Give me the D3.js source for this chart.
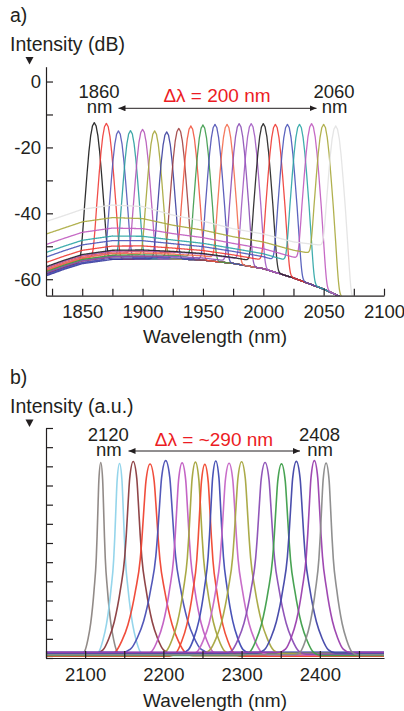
<!DOCTYPE html>
<html>
<head>
<meta charset="utf-8">
<script src="https://cdn.jsdelivr.net/npm/d3@7"></script>
<style>
body { margin: 0; background: #fff; }
svg text { font-family: "Liberation Sans", Arial, sans-serif; fill: #231f20; }
</style>
</head>
<body>
<svg id="chart" width="404" height="711"></svg>
<script>
// ---- panel a: laser lines in dB ----
const peaksA = [1860, 1870, 1880, 1890, 1900, 1910, 1920, 1930, 1940, 1950, 1960,
                1970, 1980, 1990, 2000, 2010, 2020, 2030, 2040, 2050, 2060];
const heightsA = [-12.5, -12.7, -15, -14.9, -14.5, -15, -15.3, -14.2, -13.5, -13.2, -13,
                  -13, -12.8, -12.8, -12.8, -13, -13, -13, -12.8, -13, -13.5];
// where each trace's ASE floor sits between the lowest and the highest floor (0 = lowest, 1 = olive)
const floorMixA = [0.05, 0.12, 0.02, 0.08, 0.15, 0.1, 0, 0.06, 0.18, 0.1, 0.03,
                   0.14, 0.07, 0.2, 0.22, 0.32, 0.45, 0.56, 0.75, 1, 1.3];
const colorsA = ["#1a1a1a", "#ef3b36", "#5457b8", "#2a9d9f", "#b556b8", "#a6a63a", "#3b3f9e",
                 "#a04040", "#f2553f", "#3c9a4a", "#4c4fb4", "#f36b4c", "#8b4fb5", "#a25bc2",
                 "#222222", "#ee3a33", "#4a54b8", "#2ba5a5", "#c05abf", "#a8a83c", "#e2e2e2"];
const floorTopA = [[1820, -46.3], [1850, -42.6], [1875, -41.3], [1900, -41.6], [1925, -43.6],
                   [1950, -45.1], [1975, -47.1], [2000, -48.7], [2025, -51.2], [2045, -52.5],
                   [2060, -53.5], [2100, -56]];
const floorBottomA = [[1820, -59], [1835, -57], [1850, -55.3], [1875, -54], [1900, -53.8],
                      [1925, -53.8], [1950, -54.2], [1975, -55.2], [2000, -56.8], [2025, -59.6],
                      [2050, -63], [2065, -65.5], [2100, -69]];
// drop below the top (dB) at a distance from the line centre (nm)
const peakDropA = [[0, 0], [1.5, 1], [3, 4], [4.5, 9], [6, 15.5], [8, 25], [10, 36], [12, 48], [14, 60], [20, 90]];
const yLabelsA = [0, -20, -40, -60];
const xLabelsA = [1850, 1900, 1950, 2000, 2050, 2100];

// ---- panel b: laser lines, linear ----
const peaksB = [2120, 2144, 2161.5, 2183, 2203, 2224, 2241, 2253, 2267, 2284, 2300,
                2330, 2351, 2370, 2393, 2408];
const heightsB = [1, 1, 1, 1, 1, 1, 1, 1, 1, 1, 1, 1, 1, 1, 1, 1];
const widthsB = [0.5, 0.65, 0.95, 1.1, 1.1, 0.95, 0.9, 0.9, 0.85, 1, 1, 1.05, 1, 1, 0.9, 0.8];
const baseB = [0.02, 0.015, 0.025, 0.012, 0.03, 0.018, 0.022, 0.01, 0.028, 0.016, 0.024,
               0.02, 0.013, 0.026, 0.03, 0.017];
const colorsB = ["#8c8582", "#8fd3ea", "#8a3b3e", "#ef4332", "#4a4fb5", "#c15cc2", "#a4a43b",
                 "#f0472e", "#3f4ab3", "#c566c6", "#a7a740", "#8a4db5", "#3e9e4a", "#4045a8",
                 "#9a3fae", "#8a8a8a"];
// normalised line shape: distance from centre (nm) -> intensity
const profileB = [[0, 1], [4.8, 0.91], [6.8, 0.79], [9.4, 0.615], [11.5, 0.5], [17, 0.338],
                  [25.6, 0.163], [32.8, 0.077], [41, 0.016], [50, 0]];
const xLabelsB = [2100, 2200, 2300, 2400];

const svg = d3.select("#chart");
const RED = "#ec1c24";

// arrow heads
const defs = svg.append("defs");
defs.append("marker")
    .attr("id", "arrow")
    .attr("markerUnits", "userSpaceOnUse")
    .attr("markerWidth", 8).attr("markerHeight", 7)
    .attr("refX", 7).attr("refY", 3)
    .attr("orient", "auto-start-reverse")
  .append("path")
    .attr("d", "M0,0 L7,3 L0,6 Z")
    .attr("fill", "#231f20");

function styleAxis(g) {
  g.selectAll(".domain").attr("stroke", "#231f20").attr("stroke-width", 1.2);
  g.selectAll(".tick line").attr("stroke", "#231f20").attr("stroke-width", 1.2);
  g.selectAll(".tick text").style("font-size", "18.5px").attr("fill", "#231f20");
}

function triangle(y) {
  svg.append("path")
    .attr("d", `M25.5,${y} L33.5,${y} L29.5,${y + 7.5} Z`)
    .attr("fill", "#231f20");
}

// two stacked labels (value over unit) as one text
function endLabel(x, y, value) {
  const t = svg.append("text").attr("text-anchor", "middle").style("font-size", "18.5px");
  t.append("tspan").attr("x", x).attr("y", y).text(value);
  t.append("tspan").attr("x", x + 0.5).attr("y", y + 15).text("nm");
}

// ================= panel a =================
const xA = d3.scaleLinear().domain([1820, 2100]).range([46, 384]);
const yA = d3.scaleLinear().domain([-65, 4.5]).range([295.7, 66.7]);

defs.append("clipPath").attr("id", "clipA")
  .append("rect").attr("x", 46).attr("y", 66.7).attr("width", 338).attr("height", 229);

const topA = d3.scaleLinear().domain(floorTopA.map(d => d[0])).range(floorTopA.map(d => d[1]));
const botA = d3.scaleLinear().domain(floorBottomA.map(d => d[0])).range(floorBottomA.map(d => d[1]));
const dropA = d3.scaleLinear().domain(peakDropA.map(d => d[0])).range(peakDropA.map(d => d[1])).clamp(true);

const lineA = d3.line().x(d => xA(d[0])).y(d => yA(d[1])).curve(d3.curveMonotoneX);
const gA = svg.append("g").attr("clip-path", "url(#clipA)");

const lambdaA = d3.range(1820, 2100.1, 0.5);
peaksA.forEach((c, i) => {
  const t = floorMixA[i];
  const pts = lambdaA.map(l => {
    const fl = l < c ? botA(l) + t * (topA(l) - botA(l)) : botA(l);
    const pk = heightsA[i] - dropA(Math.abs(l - c));
    return [l, 10 * Math.log10(Math.pow(10, fl / 10) + Math.pow(10, pk / 10))];
  });
  gA.append("path")
    .attr("d", lineA(pts))
    .attr("fill", "none")
    .attr("stroke", colorsA[i])
    .attr("stroke-width", 1.3)
    .attr("stroke-opacity", 0.9);
});

const axYA = svg.append("g").attr("transform", "translate(46,0)")
  .call(d3.axisLeft(yA).tickValues(d3.range(-60, 1, 10)).tickSize(-7).tickSizeOuter(0).tickPadding(5)
    .tickFormat(d => yLabelsA.includes(d) ? String(d) : ""));
styleAxis(axYA);

const axXA = svg.append("g").attr("transform", "translate(0,295.7)")
  .call(d3.axisBottom(xA).tickValues(d3.range(1825, 2101, 25)).tickSize(-7).tickSizeOuter(0).tickPadding(9.2)
    .tickFormat(d => xLabelsA.includes(d) ? String(d) : ""));
styleAxis(axXA);

svg.append("text").attr("x", 10).attr("y", 22).style("font-size", "19.5px").text("a)");
svg.append("text").attr("x", 10).attr("y", 50.5).style("font-size", "19.5px").text("Intensity (dB)");
triangle(57);
svg.append("text").attr("x", 215).attr("y", 343).attr("text-anchor", "middle")
  .style("font-size", "19px").text("Wavelength (nm)");

endLabel(99, 98.3, "1860");
endLabel(334, 98.3, "2060");
svg.append("text").attr("x", 217).attr("y", 101.7).attr("text-anchor", "middle")
  .style("font-size", "19px").style("fill", RED).text("Δλ = 200 nm");
svg.append("line")
  .attr("x1", 118.5).attr("x2", 316.5).attr("y1", 108.3).attr("y2", 108.3)
  .attr("stroke", "#231f20").attr("stroke-width", 1)
  .attr("marker-start", "url(#arrow)").attr("marker-end", "url(#arrow)");

// ================= panel b =================
const xB = d3.scaleLinear().domain([2050, 2482]).range([46, 384]);
const yB = d3.scaleLinear().domain([0, 1.2]).range([658, 428]);

defs.append("clipPath").attr("id", "clipB")
  .append("rect").attr("x", 46).attr("y", 428).attr("width", 338).attr("height", 230);

const lineB = d3.line().x(d => xB(d[0])).y(d => yB(d[1])).curve(d3.curveMonotoneX);
const gB = svg.append("g").attr("clip-path", "url(#clipB)");

peaksB.forEach((c, i) => {
  const w = widthsB[i], b = baseB[i];
  const left = profileB.slice().reverse().map(p => [c - p[0] * w, b + heightsB[i] * p[1]]);
  const right = profileB.slice(1).map(p => [c + p[0] * w, b + heightsB[i] * p[1]]);
  const pts = [[2050, b], ...left.filter(p => p[0] > 2050), ...right.filter(p => p[0] < 2482), [2482, b]];
  gB.append("path")
    .attr("d", lineB(pts))
    .attr("fill", "none")
    .attr("stroke", colorsB[i])
    .attr("stroke-width", 1.6)
    .attr("stroke-opacity", 0.95);
});

const axYB = svg.append("g").attr("transform", "translate(46,0)")
  .call(d3.axisLeft(yB).tickValues(d3.range(0, 1.21, 0.1)).tickSize(-7).tickSizeOuter(0).tickFormat(""));
styleAxis(axYB);

const axXB = svg.append("g").attr("transform", "translate(0,658)")
  .call(d3.axisBottom(xB).tickValues(d3.range(2050, 2451, 50)).tickSize(-7).tickSizeOuter(0).tickPadding(9.4)
    .tickFormat(d => xLabelsB.includes(d) ? String(d) : ""));
styleAxis(axXB);

svg.append("text").attr("x", 10).attr("y", 384).style("font-size", "19.5px").text("b)");
svg.append("text").attr("x", 10).attr("y", 413).style("font-size", "19.5px").text("Intensity (a.u.)");
triangle(419.5);
svg.append("text").attr("x", 215).attr("y", 706.5).attr("text-anchor", "middle")
  .style("font-size", "19px").text("Wavelength (nm)");

endLabel(108.3, 440.7, "2120");
endLabel(319.5, 440.7, "2408");
svg.append("text").attr("x", 214).attr("y", 445.7).attr("text-anchor", "middle")
  .style("font-size", "19px").style("fill", RED).text("Δλ = ~290 nm");
svg.append("line")
  .attr("x1", 128.5).attr("x2", 300).attr("y1", 451).attr("y2", 451)
  .attr("stroke", "#231f20").attr("stroke-width", 1)
  .attr("marker-start", "url(#arrow)").attr("marker-end", "url(#arrow)");
</script>
</body>
</html>
